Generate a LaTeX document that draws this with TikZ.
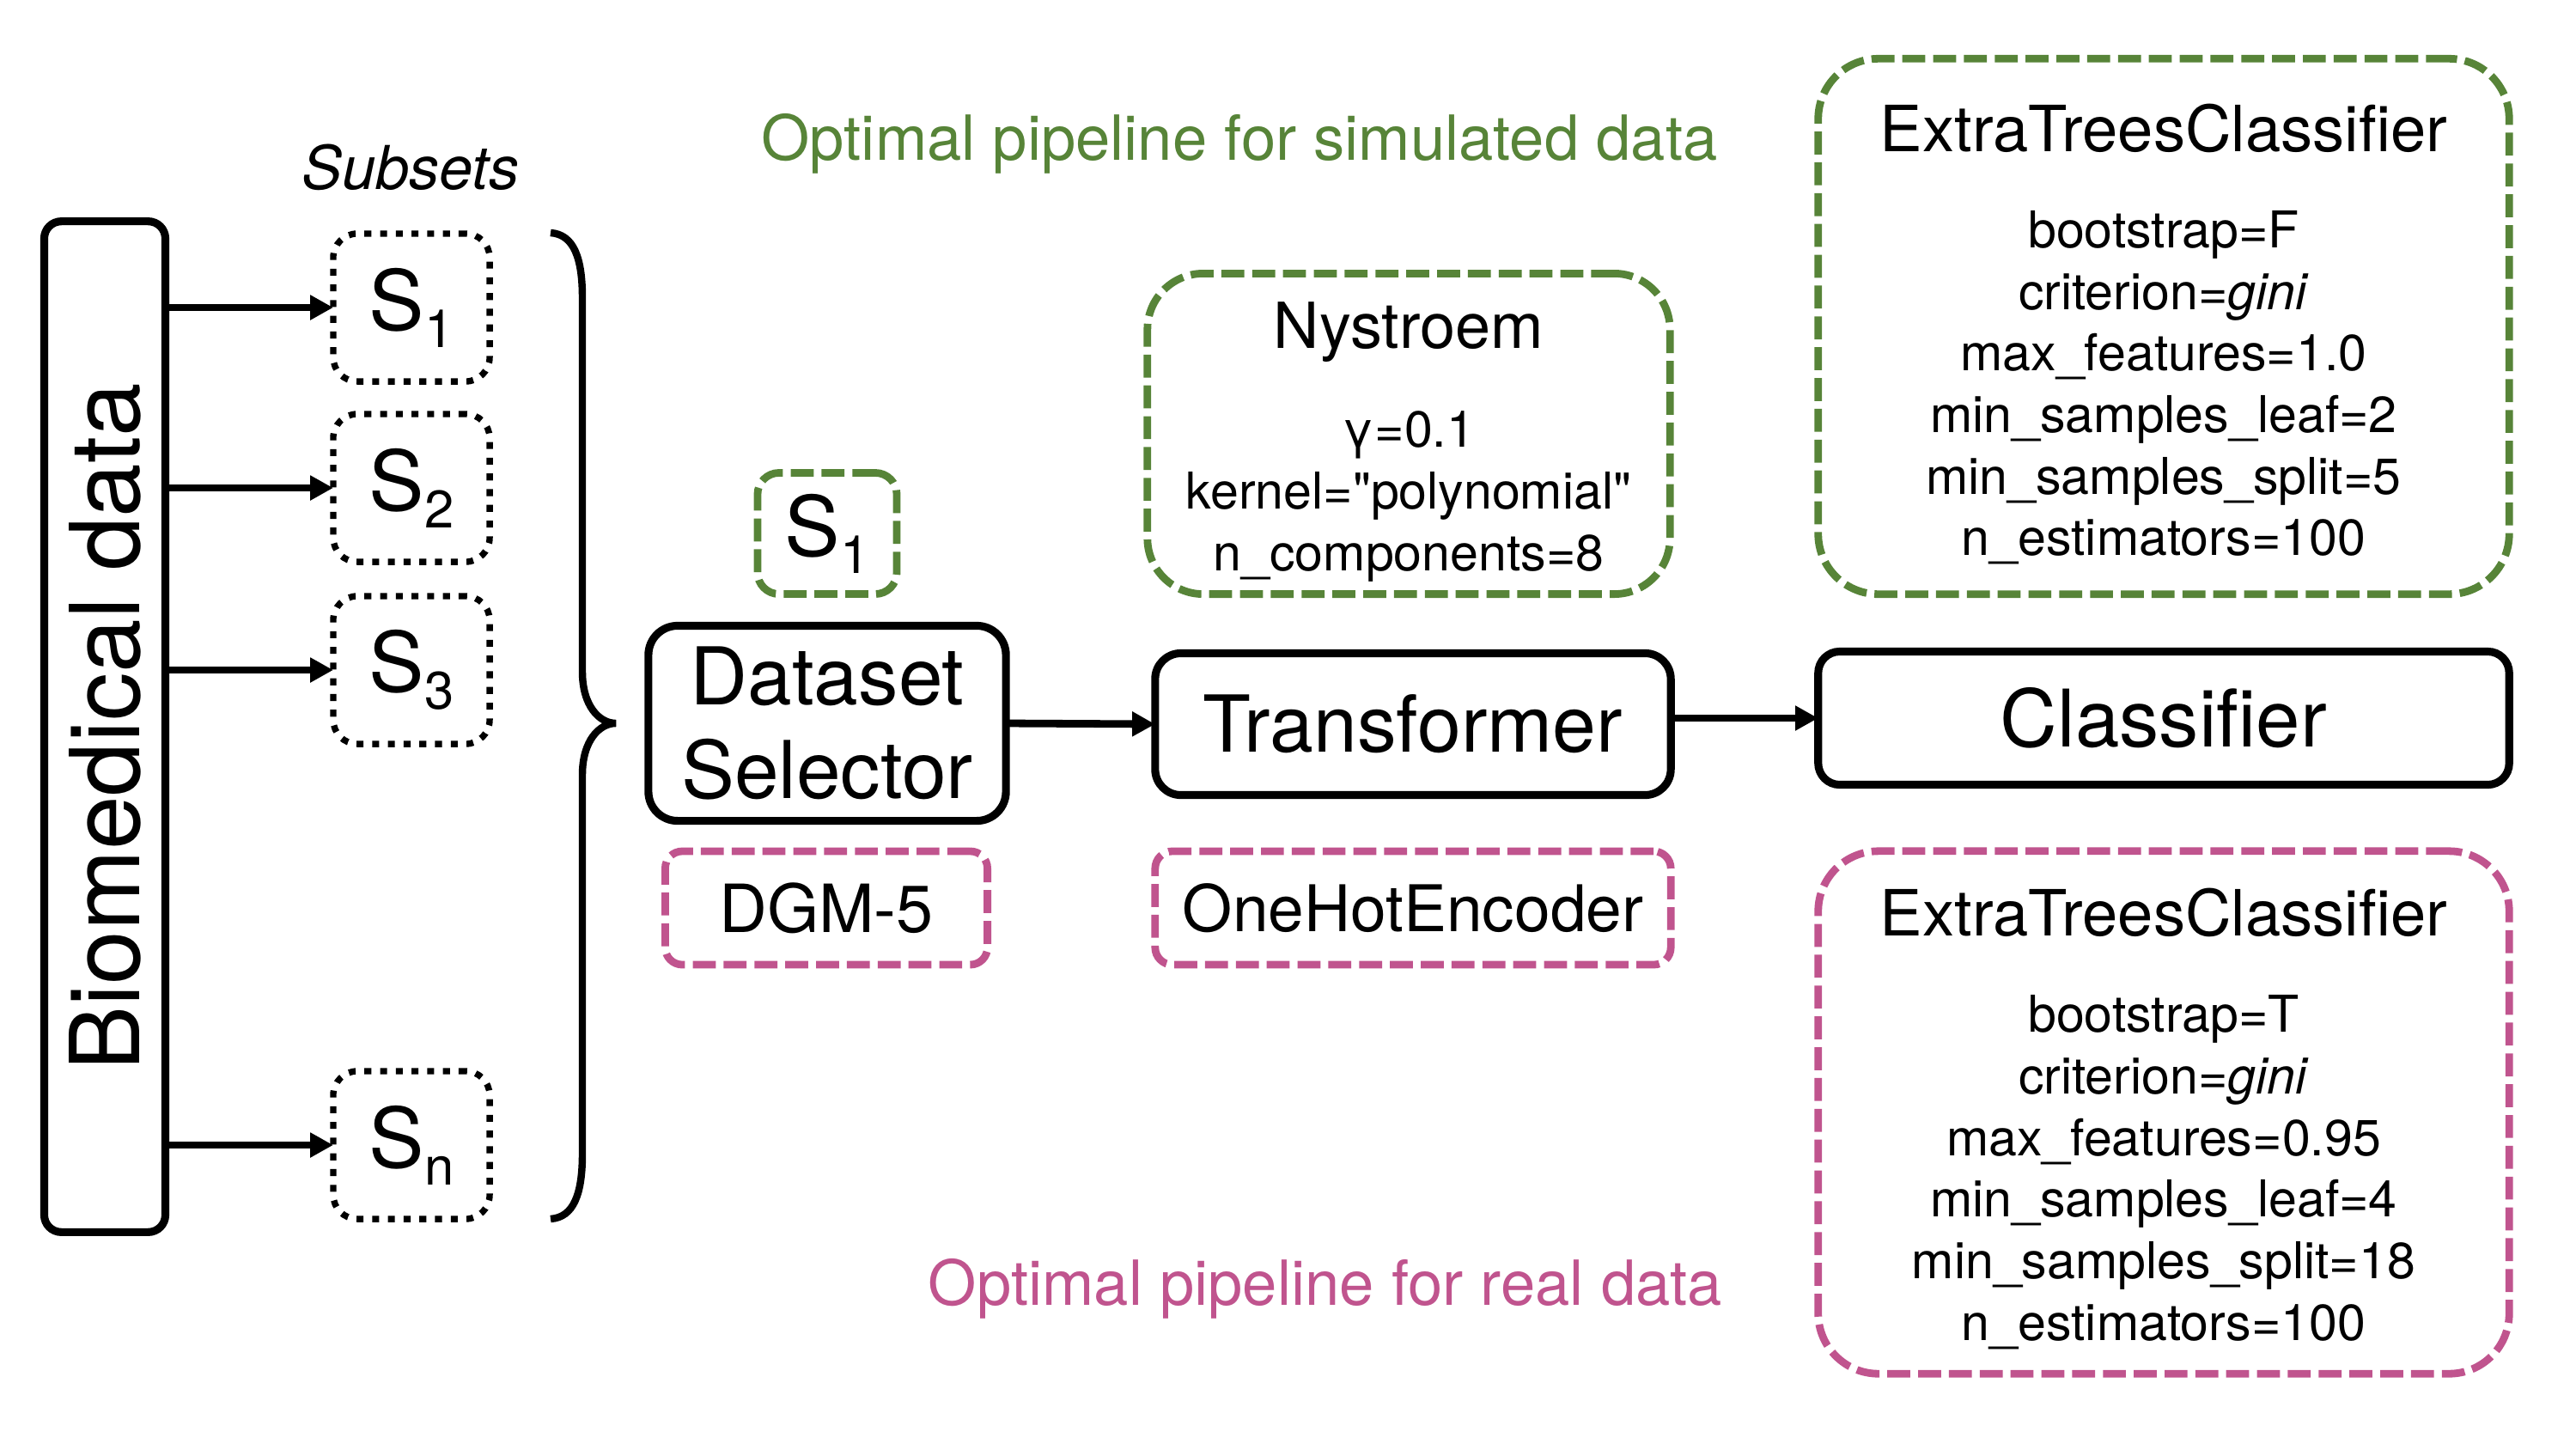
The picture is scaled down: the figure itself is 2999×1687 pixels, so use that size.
\documentclass[tikz,border=0pt]{standalone}
\usepackage{fontspec}
\setmainfont{TeX Gyre Heros}
\newfontfamily\straightqfont{TeX Gyre Heros}
\usetikzlibrary{arrows.meta}
\definecolor{pgreen}{RGB}{87,132,56}
\definecolor{ppink}{RGB}{192,84,142}
\newcommand{\subS}[1]{S\raisebox{-5.7pt}{\fontsize{17.5}{18}\selectfont #1}}
\newcommand{\sq}{{\straightqfont"}}
\begin{document}
\begin{tikzpicture}[x=0.01cm,y=-0.01cm,
  solidbox/.style={draw, line width=2.6pt, rounded corners=#1, inner sep=0pt, outer sep=0pt, align=center},
  solidbox/.default=0.25cm,
  dotbox/.style={draw, line width=2.1pt, dash pattern=on 2.3pt off 2.9pt, rounded corners=0.28cm,
    minimum width=1.82cm, minimum height=1.72cm, inner sep=0pt, outer sep=0pt,
    font=\fontsize{27.5}{32}\selectfont},
  gdash/.style={draw=pgreen, line width=2.5pt, dash pattern=on 7.6pt off 2.6pt, inner sep=0pt, outer sep=0pt, align=center},
  pdash/.style={draw=ppink, line width=2.5pt, dash pattern=on 7.6pt off 2.6pt, inner sep=0pt, outer sep=0pt, align=center},
  arr/.style={line width=2.5pt, -{Triangle[length=7.6pt,width=7.8pt]}},
  paramfont/.style={font=\fontsize{16.8}{20.4}\selectfont}
]
\useasboundingbox (0,0) rectangle (2999,1687);

% Biomedical data
\node[solidbox=0.2cm, minimum width=1.41cm, minimum height=11.76cm] (bio) at (122,846)
  {\rotatebox{90}{\fontsize{32}{38}\selectfont Biomedical data}};

\node[font=\fontsize{20}{24}\selectfont\itshape] (subsets) at (478,195) {Subsets};

\node[dotbox] (s1) at (479,358) {\subS{1}};
\node[dotbox] (s2) at (479,568) {\subS{2}};
\node[dotbox] (s3) at (479,780) {\subS{3}};
\node[dotbox] (sn) at (479,1333) {\subS{n}};

\draw[arr] (bio.east |- s1.west) -- (s1.west);
\draw[arr] (bio.east |- s2.west) -- (s2.west);
\draw[arr] (bio.east |- s3.west) -- (s3.west);
\draw[arr] (bio.east |- sn.west) -- (sn.west);

% brace
\draw[line width=2.4pt] (641,271) .. controls (668,273) and (678,300) .. (678,347)
  -- (678,782) .. controls (678,822) and (698,842) .. (717,842)
  .. controls (698,842) and (678,862) .. (678,902)
  -- (678,1343) .. controls (678,1390) and (668,1417) .. (641,1419);

% Dataset selector column
\node[solidbox=0.34cm, minimum width=4.16cm, minimum height=2.27cm,
  font=\fontsize{26.4}{31}\selectfont] (ds) at (963,842) {Dataset\\Selector};
\node[gdash, rounded corners=0.25cm, minimum width=1.62cm, minimum height=1.41cm,
  font=\fontsize{27.5}{32}\selectfont] (ss1) at (963,621) {\subS{1}};
\node[pdash, rounded corners=0.2cm, minimum width=3.75cm, minimum height=1.32cm,
  font=\fontsize{22}{26}\selectfont] (dgm) at (962,1057) {DGM-5};

% Transformer column
\node[solidbox=0.3cm, minimum width=6cm, minimum height=1.65cm,
  font=\fontsize{26}{31}\selectfont] (tr) at (1645,843) {Transformer};
\node[gdash, rounded corners=0.65cm, minimum width=6.08cm, minimum height=3.73cm, paramfont] (ny) at (1640,505)
  {\rule{0pt}{20.6pt}{\fontsize{21}{25}\selectfont Nystroem}\\[12.5pt]γ=0.1\\kernel=\sq polynomial\sq\\n\_components=8};
\node[pdash, rounded corners=0.2cm, minimum width=6cm, minimum height=1.32cm,
  font=\fontsize{21.3}{25}\selectfont] (ohe) at (1645,1057) {OneHotEncoder};

% Classifier column
\node[solidbox=0.25cm, minimum width=8.04cm, minimum height=1.55cm,
  font=\fontsize{26.3}{31}\selectfont] (cl) at (2519,836) {Classifier};
\node[gdash, rounded corners=0.7cm, minimum width=8.04cm, minimum height=6.23cm, paramfont] (etg) at (2519,380)
  {\rule{0pt}{21pt}{\fontsize{21.1}{25}\selectfont ExtraTreesClassifier}\\[11.4pt]bootstrap=F\\criterion=\textit{gini}\\max\_features=1.0\\min\_samples\_leaf=2\\min\_samples\_split=5\\n\_estimators=100};
\node[pdash, rounded corners=0.7cm, minimum width=8.04cm, minimum height=6.08cm, paramfont] (etp) at (2519,1295)
  {\rule{0pt}{20pt}{\fontsize{21.1}{25}\selectfont ExtraTreesClassifier}\\[11.4pt]bootstrap=T\\criterion=\textit{gini}\\max\_features=0.95\\min\_samples\_leaf=4\\min\_samples\_split=18\\n\_estimators=100};

\draw[arr] (ds.east) -- (tr.west);
\draw[arr] (tr.east |- cl.west) -- (cl.west);

% titles
\node[text=pgreen, font=\fontsize{20.6}{25}\selectfont] (tsim) at (1443,167) {Optimal pipeline for simulated data};
\node[text=ppink, font=\fontsize{20.6}{25}\selectfont] (treal) at (1543,1500) {Optimal pipeline for real data};
\end{tikzpicture}
\end{document}
